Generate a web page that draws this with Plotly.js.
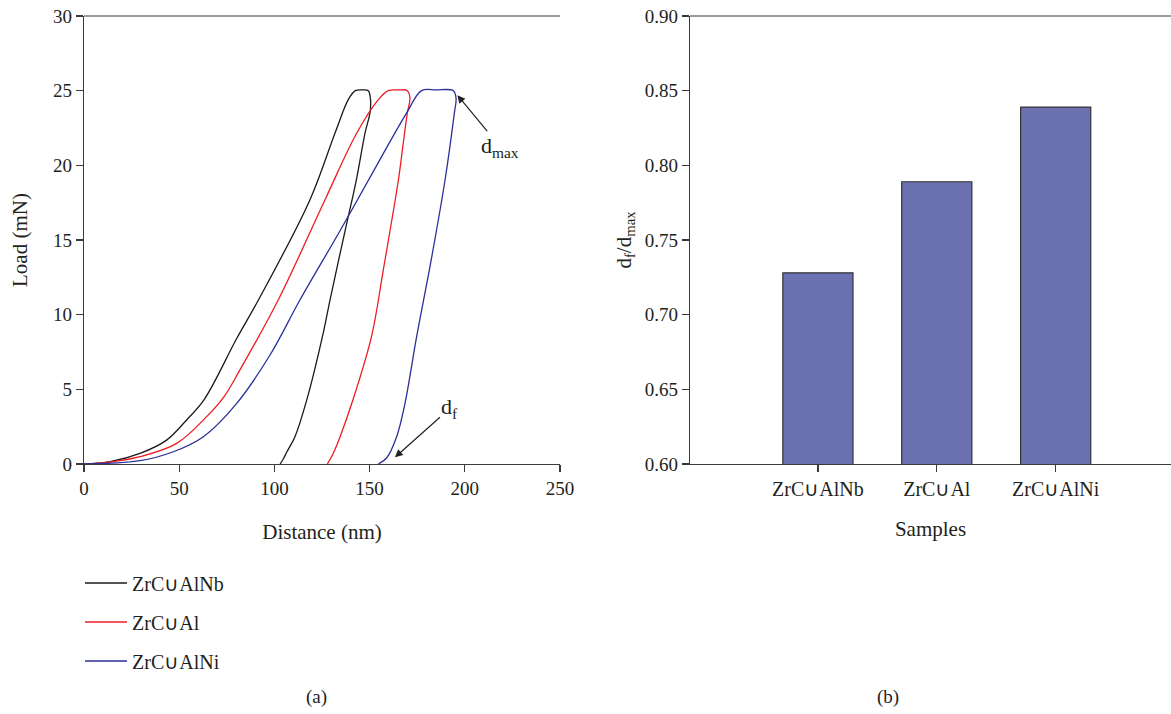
<!DOCTYPE html>
<html>
<head>
<meta charset="utf-8">
<script src="https://cdn.plot.ly/plotly-3.0.1.min.js"></script>
<style>html,body{margin:0;padding:0;background:#fff}#chart{width:1171px;height:714px}</style>
</head>
<body>
<div id="chart"></div>
<script>
// ---- Data ----
const seriesNames = ["ZrC\u222AAlNb", "ZrC\u222AAl", "ZrC\u222AAlNi"];
const seriesColors = ["#1a1a1a", "#ee1c25", "#2b2f9a"];

// Load-displacement curves: loading then unloading (Distance nm, Load mN)
const nbDistance = [0, 13.7, 29.4, 43.4, 53.9, 63.0, 80.2, 91.6, 118.7, 131.8, 138.8, 142.5, 146.5, 149.3, 150.4, 150.3, 147.6, 143.0, 137.0, 129.2, 125.7, 117.0, 110.8, 106.5, 104.5, 103.0];
const nbLoad     = [0, 0.16, 0.71, 1.6, 2.95, 4.29, 8.4, 10.98, 17.7, 22.15, 24.4, 25.0, 25.05, 25.0, 24.5, 23.6, 22.15, 19.0, 15.55, 10.98, 8.8, 4.29, 1.83, 0.8, 0.3, 0];

const alDistance = [0, 12.0, 29.4, 48.7, 64.4, 73.5, 81.9, 102.0, 126.6, 143.2, 154.6, 159.8, 165.0, 169.8, 171.2, 169.8, 167.5, 165.1, 157.2, 151.0, 141.0, 134.5, 130.5, 127.8];
const alLoad     = [0, 0.1, 0.49, 1.38, 3.17, 4.5, 6.3, 10.98, 17.7, 22.15, 24.4, 25.0, 25.05, 25.0, 24.5, 23.5, 21.3, 19.0, 13.0, 8.53, 4.2, 1.83, 0.6, 0];

const niDistance = [0, 29.4, 46.9, 62.7, 80.2, 97.7, 113.4, 135.3, 155.5, 169.4, 177.3, 185.0, 194.0, 195.4, 194.5, 189.6, 181.4, 174.7, 168.6, 164.2, 158.9, 154.6];
const niLoad     = [0, 0.22, 0.82, 1.83, 4.06, 7.3, 10.98, 15.8, 20.4, 23.5, 25.0, 25.05, 25.0, 24.5, 23.5, 19.0, 13.0, 8.53, 4.06, 1.83, 0.4, 0];

// Bar chart: df/dmax per sample
const sampleNames = ["ZrC\u222AAlNb", "ZrC\u222AAl", "ZrC\u222AAlNi"];
const ratioValues = [0.728, 0.789, 0.839];

// Tick values
const distanceTicks = [0, 50, 100, 150, 200, 250];
const loadTicks = [0, 5, 10, 15, 20, 25, 30];
const ratioTicks = [0.60, 0.65, 0.70, 0.75, 0.80, 0.85, 0.90];

// ---- Styling ----
const FONT = "Liberation Serif, Times New Roman, serif";
const TXT = "#231f20";
const AX = "#3a3a3a";

const curves = [
  [nbDistance, nbLoad],
  [alDistance, alLoad],
  [niDistance, niLoad]
];

const traces = curves.map((c, i) => ({
  type: "scatter",
  mode: "lines",
  x: c[0],
  y: c[1],
  name: seriesNames[i],
  legendgroup: "g" + i,
  line: {color: seriesColors[i], width: 1.3, shape: "spline", smoothing: 1},
  xaxis: "x",
  yaxis: "y",
  hoverinfo: "skip"
}));

traces.push({
  type: "bar",
  x: sampleNames,
  y: ratioValues,
  base: 0,
  width: 0.59,
  marker: {color: "#6c71b2", line: {color: "#333", width: 1.2}},
  xaxis: "x2",
  yaxis: "y2",
  showlegend: false,
  hoverinfo: "skip"
});

const axisCommon = {
  showline: true,
  linecolor: AX,
  linewidth: 1.2,
  ticks: "outside",
  ticklen: 7,
  tickwidth: 1.2,
  tickcolor: AX,
  showgrid: false,
  zeroline: false,
  tickfont: {family: FONT, size: 19, color: TXT},
  automargin: false
};

const titleFont = {family: FONT, size: 21, color: TXT};

const layout = {
  width: 1171,
  height: 714,
  margin: {l: 84, r: 0, t: 16, b: 250, autoexpand: false},
  paper_bgcolor: "#fff",
  plot_bgcolor: "#fff",
  font: {family: FONT, color: TXT},
  showlegend: true,
  legend: {
    x: 80 / 1171, xanchor: "left", xref: "container",
    y: 0.2108, yanchor: "top", yref: "container",
    font: {family: FONT, size: 20, color: TXT},
    tracegroupgap: 10,
    itemwidth: 42,
    bgcolor: "rgba(0,0,0,0)"
  },
  xaxis: Object.assign({}, axisCommon, {
    domain: [0, 476 / 1087],
    range: [0, 250],
    tickvals: distanceTicks,
    ticktext: distanceTicks.map(String),
    title: {text: "Distance (nm)", font: titleFont, standoff: 26},
    anchor: "y"
  }),
  yaxis: Object.assign({}, axisCommon, {
    domain: [0, 1],
    range: [0, 30],
    tickvals: loadTicks,
    ticktext: loadTicks.map(String),
    anchor: "x"
  }),
  xaxis2: Object.assign({}, axisCommon, {
    domain: [606 / 1087, 1],
    type: "category",
    range: [-1.076, 2.97],
    tickfont: {family: FONT, size: 20, color: TXT},
    title: {text: "Samples", font: titleFont, standoff: 22},
    anchor: "y2"
  }),
  yaxis2: Object.assign({}, axisCommon, {
    domain: [0, 1],
    range: [0.6, 0.9],
    tickvals: ratioTicks,
    ticktext: ratioTicks.map(v => v.toFixed(2)),
    title: {text: "d<sub>f</sub>/d<sub>max</sub>", font: titleFont, standoff: 7},
    anchor: "x2"
  }),
  shapes: [
    {type: "line", xref: "x domain", yref: "y domain", x0: 0, x1: 1, y0: 1, y1: 1, line: {color: AX, width: 1.2}},
    {type: "line", xref: "x2 domain", yref: "y2 domain", x0: 0, x1: 1, y0: 1, y1: 1, line: {color: AX, width: 1.2}}
  ],
  annotations: [
    // left y-axis title
    {xref: "paper", yref: "paper", x: (20 - 84) / 1087, y: (464 - 240) / 448, xanchor: "center", yanchor: "middle",
     text: "Load (mN)", textangle: -90, showarrow: false, font: titleFont},
    // d_max label with arrow to the maximum depth
    {xref: "x", yref: "y", x: 196.1, y: 24.7, axref: "x", ayref: "y", ax: 218.5, ay: 21.25,
     text: "d<sub>max</sub>", showarrow: true, arrowhead: 2, arrowsize: 1.3, arrowwidth: 1.2, arrowcolor: "#222",
     font: {family: FONT, size: 22, color: TXT}},
    // d_f label with arrow to the final depth
    {xref: "x", yref: "y", x: 163.3, y: 0.45, axref: "x", ayref: "y", ax: 192.2, ay: 3.73,
     text: "d<sub>f</sub>", showarrow: true, arrowhead: 2, arrowsize: 1.3, arrowwidth: 1.2, arrowcolor: "#222",
     font: {family: FONT, size: 22, color: TXT}},
    // panel labels
    {xref: "paper", yref: "paper", x: (316 - 84) / 1087, y: (464 - 697) / 448, xanchor: "center", yanchor: "middle",
     text: "(a)", showarrow: false, font: {family: FONT, size: 19, color: TXT}},
    {xref: "paper", yref: "paper", x: (888 - 84) / 1087, y: (464 - 697) / 448, xanchor: "center", yanchor: "middle",
     text: "(b)", showarrow: false, font: {family: FONT, size: 19, color: TXT}}
  ]
};

Plotly.newPlot("chart", traces, layout, {staticPlot: true, displayModeBar: false});
</script>
</body>
</html>
